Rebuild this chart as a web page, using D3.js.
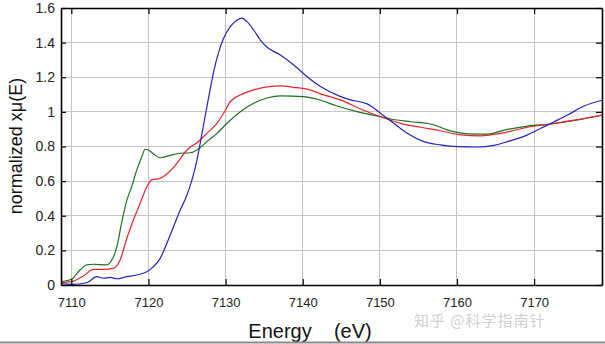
<!DOCTYPE html>
<html><head><meta charset="utf-8">
<script src="https://cdn.jsdelivr.net/npm/d3@7"></script>
<style>
html,body{margin:0;padding:0;background:#fff;}
svg{display:block;}
</style></head>
<body><svg id="c" width="605" height="344"></svg>
<script>
const xTicks = [7110,7120,7130,7140,7150,7160,7170];
const yTicks = [0,0.2,0.4,0.6,0.8,1,1.2,1.4,1.6];
const yTickLabels = ["0","0.2","0.4","0.6","0.8","1","1.2","1.4","1.6"];

const greenE = [7108.66,7110,7111.13,7112.0,7112.86,7114.6,7115.25,7115.9,7116.55,7117.2,7117.84,7118.49,7119.14,7119.57,7120,7120.65,7121.52,7122.82,7124.12,7125.42,7126.29,7127.58,7128.88,7130.18,7131.91,7133.64,7135.38,7137.1,7140.13,7141.87,7144.47,7147.06,7150.09,7151.39,7153.99,7156.58,7159.18,7162.21,7163.95,7166.55,7169.14,7172.17,7175.64,7178.96];
const greenV = [0.019,0.033,0.087,0.116,0.120,0.116,0.144,0.220,0.366,0.490,0.570,0.665,0.741,0.784,0.780,0.757,0.735,0.749,0.761,0.764,0.780,0.828,0.876,0.934,1.001,1.050,1.080,1.092,1.088,1.073,1.034,1.001,0.972,0.959,0.943,0.930,0.890,0.871,0.872,0.899,0.918,0.930,0.953,0.982];

const redE = [7108.66,7110,7111.56,7112.86,7114.16,7115.45,7116.32,7117.2,7118.05,7118.92,7119.79,7120.44,7121.52,7122.39,7123.69,7124.99,7126.29,7127.58,7128.88,7129.74,7130.61,7131.91,7133.64,7135.38,7137.1,7138.83,7140.57,7142.73,7144.9,7147.49,7150.09,7152.69,7155.29,7157.88,7160.48,7163.08,7165.68,7169.14,7172.17,7178.96];
const redV = [0.013,0.019,0.052,0.090,0.090,0.096,0.144,0.270,0.375,0.472,0.568,0.607,0.616,0.641,0.703,0.780,0.822,0.876,0.934,0.992,1.059,1.098,1.127,1.144,1.150,1.142,1.131,1.098,1.069,1.017,0.972,0.934,0.911,0.891,0.867,0.861,0.876,0.911,0.930,0.982];

const blueE = [7108.66,7110,7112.0,7113.3,7114.16,7115.03,7115.9,7117.2,7118.49,7119.79,7120.65,7121.52,7122.39,7123.25,7124.12,7124.99,7125.64,7126.29,7126.94,7127.58,7128.23,7128.88,7129.74,7130.61,7131.48,7132.13,7132.78,7133.64,7134.51,7135.38,7137.1,7138.83,7140.57,7142.3,7144.9,7146.19,7148.36,7150.09,7151.82,7153.56,7155.71,7157.88,7160.05,7162.65,7164.81,7166.55,7169.14,7170.87,7172.6,7174.34,7176.49,7178.96];
const blueV = [0.006,0.004,0.013,0.048,0.039,0.044,0.036,0.048,0.058,0.077,0.106,0.154,0.241,0.337,0.433,0.520,0.607,0.722,0.876,1.030,1.184,1.310,1.425,1.492,1.531,1.541,1.521,1.473,1.415,1.373,1.329,1.271,1.203,1.146,1.088,1.069,1.046,0.992,0.934,0.876,0.828,0.809,0.799,0.797,0.807,0.828,0.867,0.905,0.943,0.982,1.034,1.069];

const series = [
  {name:"green", E:greenE, V:greenV, color:"#1f6e1f"},
  {name:"red", E:redE, V:redV, color:"#e0262a"},
  {name:"blue", E:blueE, V:blueV, color:"#2424b4"}
];

const L=61, R=602, T=8, B=285;
const svg = d3.select("#c");
const x = d3.scaleLinear().domain([7108.66,7178.8]).range([L,R]);
const y = d3.scaleLinear().domain([0,1.6]).range([B,T]);

// grid
const grid = svg.append("g");
grid.selectAll("line.v").data(xTicks).join("line")
  .attr("x1",d=>x(d)).attr("x2",d=>x(d)).attr("y1",T).attr("y2",B)
  .attr("stroke","#c4c4c4").attr("stroke-width",1).attr("shape-rendering","crispEdges");
grid.selectAll("line.h").data(yTicks.slice(1,-1)).join("line")
  .attr("x1",L).attr("x2",R).attr("y1",d=>y(d)).attr("y2",d=>y(d))
  .attr("stroke","#c4c4c4").attr("stroke-width",1).attr("shape-rendering","crispEdges");

// curves
svg.append("defs").append("clipPath").attr("id","clip").append("rect")
  .attr("x",L).attr("y",T).attr("width",R-L).attr("height",B-T);
const line = d3.line().x(d=>x(d[0])).y(d=>y(d[1])).curve(d3.curveMonotoneX);
const cg = svg.append("g").attr("clip-path","url(#clip)");
series.forEach(s=>{
  cg.append("path").datum(s.E.map((e,i)=>[e,s.V[i]]))
    .attr("d",line).attr("fill","none").attr("stroke",s.color).attr("stroke-width",1.2);
});

// axes with inward ticks
const fontFam = "'Liberation Sans', Arial, sans-serif";
const xb = svg.append("g").attr("transform",`translate(0,${B})`)
  .call(d3.axisBottom(x).tickValues(xTicks).tickSizeInner(-6).tickSizeOuter(0).tickPadding(13).tickFormat(d3.format("d")));
const xt = svg.append("g").attr("transform",`translate(0,${T})`)
  .call(d3.axisTop(x).tickValues(xTicks).tickSizeInner(-6).tickSizeOuter(0).tickFormat(""));
const yl = svg.append("g").attr("transform",`translate(${L},0)`)
  .call(d3.axisLeft(y).tickValues(yTicks).tickSizeInner(-5).tickSizeOuter(0).tickPadding(6).tickFormat((d,i)=>yTickLabels[i]));
const yr = svg.append("g").attr("transform",`translate(${R},0)`)
  .call(d3.axisRight(y).tickValues(yTicks).tickSizeInner(-6).tickSizeOuter(0).tickFormat(""));
[xb,xt,yl,yr].forEach(g=>{
  g.select(".domain").attr("stroke","#000").attr("stroke-width",1.6);
  g.selectAll(".tick line").attr("stroke","#000").attr("stroke-width",1.2);
  g.selectAll(".tick text").attr("fill","#222").style("font-family",fontFam).style("font-size","13px");
});
yl.selectAll(".tick text").style("font-size","14px");

// axis titles
svg.append("text").attr("x",310).attr("y",338).attr("text-anchor","middle")
  .style("font-family",fontFam).style("font-size","20px").attr("fill","#111")
  .attr("xml:space","preserve").text("Energy    (eV)");
svg.append("text").attr("transform","translate(22,146) rotate(-90)").attr("text-anchor","middle")
  .style("font-family",fontFam).style("font-size","18px").attr("fill","#111")
  .text("normalized xμ(E)");

// watermark
svg.append("text").attr("x",414).attr("y",326)
  .style("font-family","'Noto Sans CJK SC', sans-serif").style("font-size","15px")
  .style("letter-spacing","1px").attr("fill","#cfcfcf")
  .text("知乎 @科学指南针");

// bottom rule
svg.append("line").attr("x1",0).attr("x2",605).attr("y1",342.5).attr("y2",342.5)
  .attr("stroke","#8a8a8a").attr("stroke-width",2);
</script></body></html>
